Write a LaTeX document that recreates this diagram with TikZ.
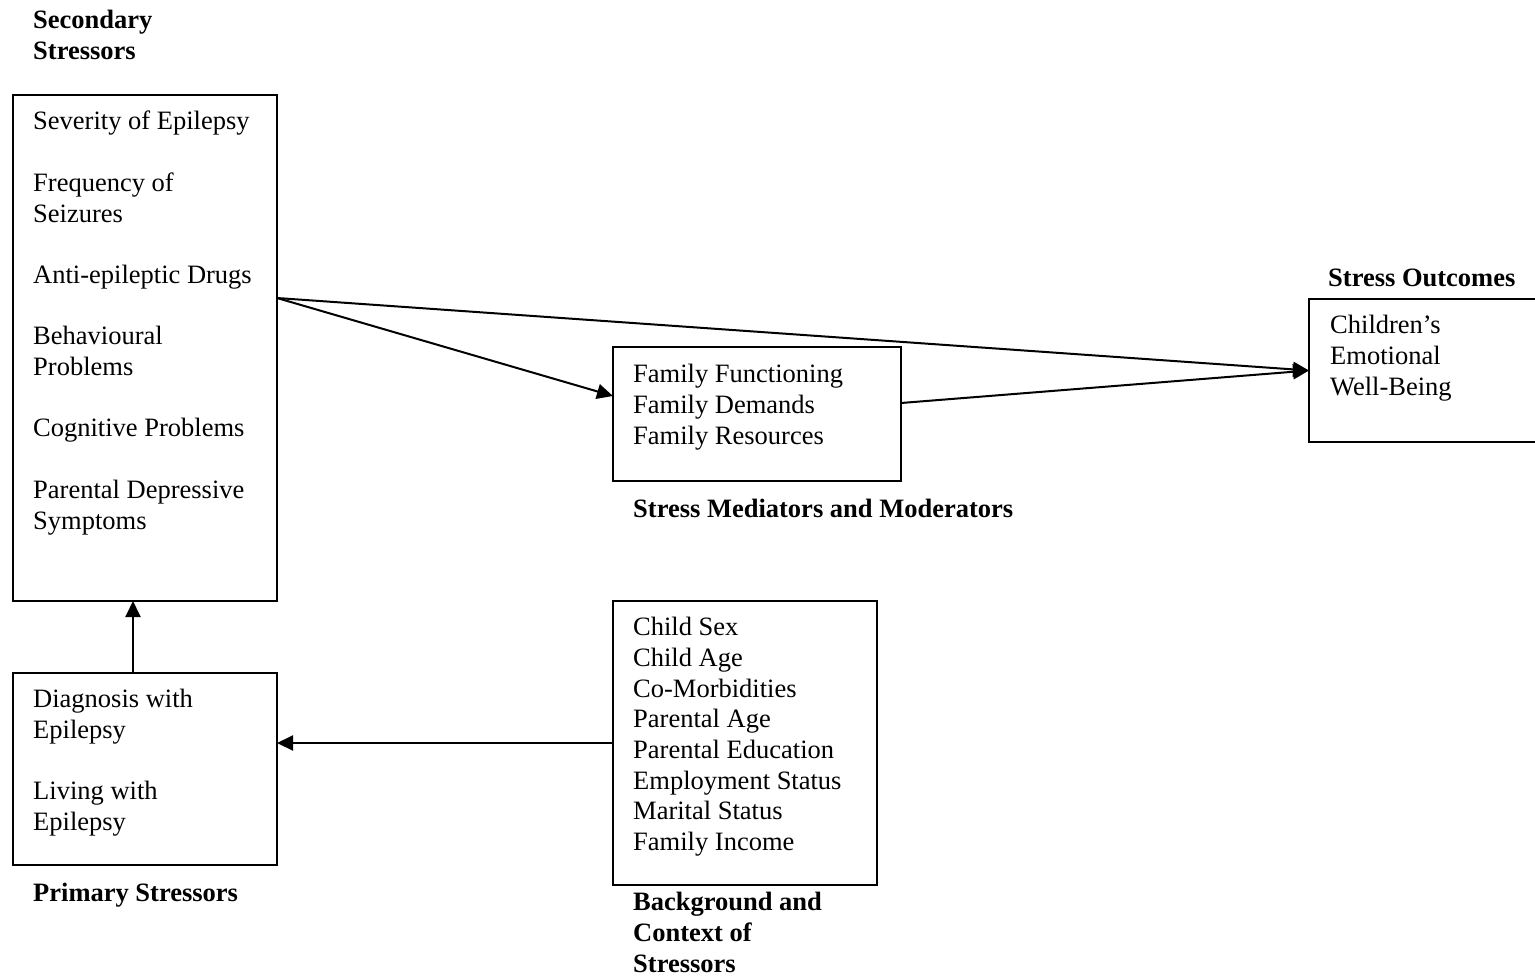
\documentclass[tikz,border=0pt]{standalone}
\usepackage{fontspec}
\setmainfont{Liberation Serif}
\usetikzlibrary{arrows.meta}
\begin{document}
\begin{tikzpicture}[x=1pt,y=-1pt,
  every node/.style={font=\fontsize{26.5}{30.7}\selectfont},
  box/.style={draw,line width=2pt,anchor=north west,inner sep=0pt,outer sep=0pt},
  % multi-line texts are placed by the baseline of their last line
  txt/.style={anchor=base west,inner sep=0pt,align=left},
  head/.style={txt,font=\fontsize{26.5}{30.7}\selectfont\bfseries},
  link/.style={line width=2pt,-{Triangle[length=16pt,width=15pt]}}]
\useasboundingbox (0,0) rectangle (1535,978);

% frames
\node[box,minimum width=264pt,minimum height=506pt] (b1) at (13,95) {};
\node[box,minimum width=264pt,minimum height=192pt] (b2) at (13,673) {};
\node[box,minimum width=288pt,minimum height=134pt] (b3) at (613,347) {};
\node[box,minimum width=264pt,minimum height=284pt] (b4) at (613,601) {};
\node[box,minimum width=240pt,minimum height=143pt] (b5) at (1309,299) {};

% headings
\node[head] (h1) at (33,59.5) {Secondary\\Stressors};
\node[head] (h2) at (33,901) {Primary Stressors};
\node[head] (h3) at (633,517) {Stress Mediators and Moderators};
\node[head] (h4) at (633,972) {Background and\\Context of\\Stressors};
\node[head] (h5) at (1328,286) {Stress Outcomes};

% box contents
\node[txt] (t1) at (33,529) {Severity of Epilepsy\\[30.7pt]
  Frequency of\\Seizures\\[30.7pt]
  Anti-epileptic Drugs\\[30.7pt]
  Behavioural\\Problems\\[30.7pt]
  Cognitive Problems\\[30.7pt]
  Parental Depressive\\Symptoms};
\node[txt] (t2) at (33,830.5) {Diagnosis with\\Epilepsy\\[30.7pt]Living with\\Epilepsy};
\node[txt] (t3) at (633,444) {Family Functioning\\Family Demands\\Family Resources};
\node[txt] (t4) at (633,850.5) {Child Sex\\Child Age\\Co-Morbidities\\Parental Age\\Parental Education\\Employment Status\\Marital Status\\Family Income};
\node[txt] (t5) at (1330,395) {Children’s\\Emotional\\Well-Being};

% connectors
\coordinate (src) at ([yshift=50pt]b1.east);
\draw[link] (src) -- ([yshift=18pt]b3.west);
\draw[link] (src) -- (b5.west);
\draw[link] ([yshift=11pt]b3.east) -- (b5.west);
\draw[link] ([xshift=-12pt]b2.north) -- ([xshift=-12pt]b1.south);
\draw[link] (b4.west) -- (b2.east |- b4.west);
\end{tikzpicture}
\end{document}
